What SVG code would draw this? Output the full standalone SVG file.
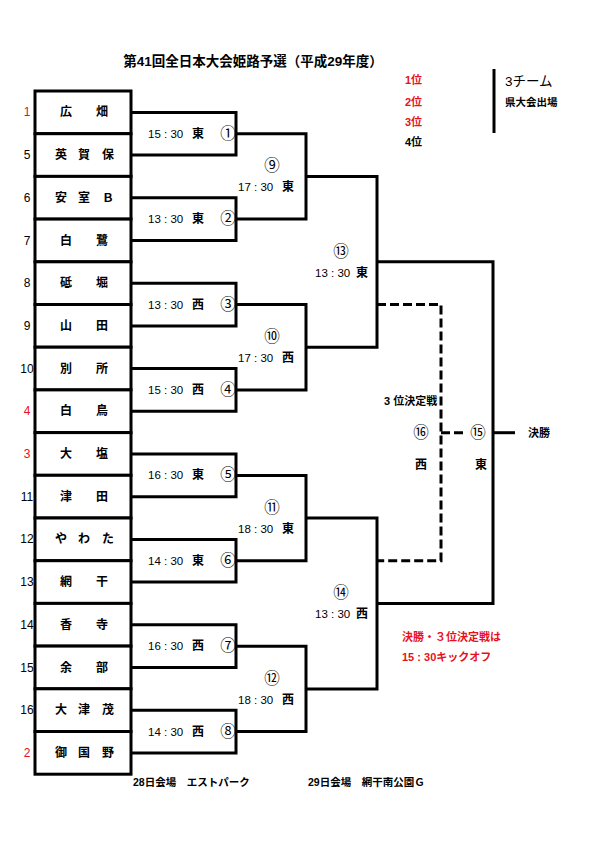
<svg xmlns="http://www.w3.org/2000/svg" width="595" height="842" viewBox="0 0 595 842">
<style>
text{font-family:"Liberation Sans","Noto Sans CJK JP",sans-serif;fill:#000}
.t{font-size:13.5px;font-weight:bold}
.nm{font-size:12px;font-weight:bold;text-anchor:middle}
.sd{font-size:12px;text-anchor:middle}
.red{fill:#e8101a}
.tm{font-size:11.5px}
.kj{font-size:12px;font-weight:bold;text-anchor:middle}
.cn{font-family:"Noto Sans CJK JP",sans-serif;font-size:15.5px;text-anchor:middle}
.lg{font-size:11px;font-weight:bold}
.box{fill:#fff;stroke:#000;stroke-width:3}
.ln{fill:none;stroke:#000;stroke-width:3}
.ds{fill:none;stroke:#000;stroke-width:3;stroke-dasharray:9,4}
</style>
<rect width="595" height="842" fill="#fff"/>
<text class="t" x="253" y="66" text-anchor="middle">第41回全日本大会姫路予選（平成29年度）</text>
<g id="legend">
<text class="lg red" x="405" y="84">1位</text>
<text class="lg red" x="405" y="106">2位</text>
<text class="lg red" x="405" y="126">3位</text>
<text class="lg" x="405" y="146">4位</text>
<line x1="494" y1="69" x2="494" y2="133" class="ln"/>
<text x="505" y="86" style="font-size:13.5px">3チーム</text>
<text class="lg" x="505" y="106" style="font-size:10.5px">県大会出場</text>
</g>
<g id="teams">
<g id="team1"><rect class="box" x="35" y="91" width="96" height="42.7"/><text class="sd red" x="27" y="116.4">1</text><text class="nm" x="66 102" y="116.4">広畑</text></g>
<g id="team5"><rect class="box" x="35" y="133.7" width="96" height="42.7"/><text class="sd" x="27" y="159">5</text><text class="nm" x="61 84 108" y="159">英賀保</text></g>
<g id="team6"><rect class="box" x="35" y="176.4" width="96" height="42.7"/><text class="sd" x="27" y="201.7">6</text><text class="nm" x="61 84 108" y="201.7">安室Ｂ</text></g>
<g id="team7"><rect class="box" x="35" y="219.1" width="96" height="42.7"/><text class="sd" x="27" y="244.5">7</text><text class="nm" x="66 102" y="244.5">白鷺</text></g>
<g id="team8"><rect class="box" x="35" y="261.8" width="96" height="42.7"/><text class="sd" x="27" y="287.2">8</text><text class="nm" x="66 102" y="287.2">砥堀</text></g>
<g id="team9"><rect class="box" x="35" y="304.5" width="96" height="42.7"/><text class="sd" x="27" y="329.9">9</text><text class="nm" x="66 102" y="329.9">山田</text></g>
<g id="team10"><rect class="box" x="35" y="347.2" width="96" height="42.7"/><text class="sd" x="27" y="372.6">10</text><text class="nm" x="66 102" y="372.6">別所</text></g>
<g id="team4"><rect class="box" x="35" y="389.9" width="96" height="42.7"/><text class="sd red" x="27" y="415.3">4</text><text class="nm" x="66 102" y="415.3">白鳥</text></g>
<g id="team3"><rect class="box" x="35" y="432.6" width="96" height="42.7"/><text class="sd red" x="27" y="458">3</text><text class="nm" x="66 102" y="458">大塩</text></g>
<g id="team11"><rect class="box" x="35" y="475.3" width="96" height="42.7"/><text class="sd" x="27" y="500.7">11</text><text class="nm" x="66 102" y="500.7">津田</text></g>
<g id="team12"><rect class="box" x="35" y="518" width="96" height="42.7"/><text class="sd" x="27" y="543.4">12</text><text class="nm" x="61 84 108" y="543.4">やわた</text></g>
<g id="team13"><rect class="box" x="35" y="560.7" width="96" height="42.7"/><text class="sd" x="27" y="586.1">13</text><text class="nm" x="66 102" y="586.1">網干</text></g>
<g id="team14"><rect class="box" x="35" y="603.4" width="96" height="42.7"/><text class="sd" x="27" y="628.8">14</text><text class="nm" x="66 102" y="628.8">香寺</text></g>
<g id="team15"><rect class="box" x="35" y="646.1" width="96" height="42.7"/><text class="sd" x="27" y="671.5">15</text><text class="nm" x="66 102" y="671.5">余部</text></g>
<g id="team16"><rect class="box" x="35" y="688.8" width="96" height="42.7"/><text class="sd" x="27" y="714.2">16</text><text class="nm" x="61 84 108" y="714.2">大津茂</text></g>
<g id="team2"><rect class="box" x="35" y="731.5" width="96" height="42.7"/><text class="sd red" x="27" y="756.9">2</text><text class="nm" x="61 84 108" y="756.9">御国野</text></g>
</g>
<g id="connectors">
<path class="ln" d="M131,112.4H236V155H131"/>
<path class="ln" d="M131,197.7H236V240.5H131"/>
<path class="ln" d="M131,283.2H236V325.9H131"/>
<path class="ln" d="M131,368.6H236V411.3H131"/>
<path class="ln" d="M131,454H236V496.7H131"/>
<path class="ln" d="M131,539.4H236V582.1H131"/>
<path class="ln" d="M131,624.8H236V667.5H131"/>
<path class="ln" d="M131,710.2H236V752.9H131"/>
<path class="ln" d="M236,133.7H306V219.1H236"/>
<path class="ln" d="M236,304.6H306V390H236"/>
<path class="ln" d="M236,475.4H306V560.8H236"/>
<path class="ln" d="M236,646.2H306V731.6H236"/>
<path class="ln" d="M306,176.4H377V347.3H306"/>
<path class="ln" d="M306,518.1H377V688.9H306"/>
<path class="ln" d="M377,261.8H493V603.5H377"/>
<path class="ln" d="M493,432.7H515"/>
<path class="ds" d="M377,304.6H441V560.8H377"/>
<path class="ds" d="M441,432.7H466"/>
</g>
<g id="m1"><text class="tm" x="148" y="137.7">15 : 30</text><text class="kj" x="198" y="137.7">東</text><text class="cn" x="228" y="138.7">①</text></g>
<g id="m2"><text class="tm" x="148" y="223.1">13 : 30</text><text class="kj" x="198" y="223.1">東</text><text class="cn" x="228" y="224.1">②</text></g>
<g id="m3"><text class="tm" x="148" y="308.6">13 : 30</text><text class="kj" x="198" y="308.6">西</text><text class="cn" x="228" y="309.6">③</text></g>
<g id="m4"><text class="tm" x="148" y="394">15 : 30</text><text class="kj" x="198" y="394">西</text><text class="cn" x="228" y="395">④</text></g>
<g id="m5"><text class="tm" x="148" y="479.4">16 : 30</text><text class="kj" x="198" y="479.4">東</text><text class="cn" x="228" y="480.4">⑤</text></g>
<g id="m6"><text class="tm" x="148" y="564.8">14 : 30</text><text class="kj" x="198" y="564.8">東</text><text class="cn" x="228" y="565.8">⑥</text></g>
<g id="m7"><text class="tm" x="148" y="650.2">16 : 30</text><text class="kj" x="198" y="650.2">西</text><text class="cn" x="228" y="651.2">⑦</text></g>
<g id="m8"><text class="tm" x="148" y="735.6">14 : 30</text><text class="kj" x="198" y="735.6">西</text><text class="cn" x="228" y="736.6">⑧</text></g>
<g id="m9"><text class="cn" x="272" y="171">⑨</text><text class="tm" x="238" y="191">17 : 30</text><text class="kj" x="288" y="191">東</text></g>
<g id="m10"><text class="cn" x="272" y="342">⑩</text><text class="tm" x="238" y="362">17 : 30</text><text class="kj" x="288" y="362">西</text></g>
<g id="m11"><text class="cn" x="272" y="513">⑪</text><text class="tm" x="238" y="533">18 : 30</text><text class="kj" x="288" y="533">東</text></g>
<g id="m12"><text class="cn" x="272" y="684">⑫</text><text class="tm" x="238" y="704">18 : 30</text><text class="kj" x="288" y="704">西</text></g>
<g id="m13"><text class="cn" x="341" y="257">⑬</text><text class="tm" x="315" y="277">13 : 30</text><text class="kj" x="362" y="277">東</text></g>
<g id="m14"><text class="cn" x="341" y="598">⑭</text><text class="tm" x="315" y="618">13 : 30</text><text class="kj" x="362" y="618">西</text></g>
<g id="m16"><text class="lg" x="384" y="405">3 位決定戦</text><text class="cn" x="421" y="438">⑯</text><text class="kj" x="421" y="469">西</text></g>
<g id="m15"><text class="cn" x="478" y="438">⑮</text><text class="kj" x="481" y="469">東</text></g>
<g id="final"><text class="lg" x="528" y="437">決勝</text></g>
<g id="notes">
<text class="lg red" x="402" y="641">決勝・３位決定戦は</text>
<text class="lg red" x="402" y="661">15 : 30キックオフ</text>
<text class="lg" x="133" y="786" style="font-size:10.5px">28日会場　エストパーク</text>
<text class="lg" x="308" y="786" style="font-size:10.5px">29日会場　網干南公園Ｇ</text>
</g>
</svg>
